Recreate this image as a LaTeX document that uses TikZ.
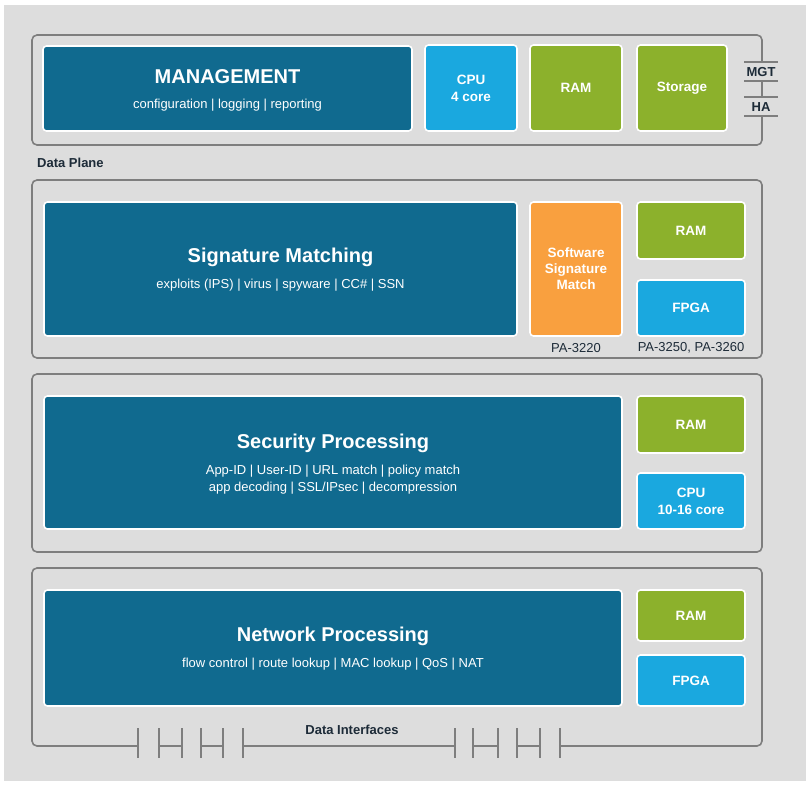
\documentclass[tikz,border=0pt]{standalone}
\usepackage{fontspec}
\setmainfont{Liberation Sans}
\definecolor{bgc}{HTML}{DDDDDD}
\definecolor{bordc}{HTML}{7E7E7E}
\definecolor{dblue}{HTML}{106A8F}
\definecolor{lblue}{HTML}{1AA8DF}
\definecolor{grn}{HTML}{8CB12C}
\definecolor{orng}{HTML}{F9A03F}
\definecolor{dtext}{HTML}{1D2B38}
\begin{document}
\begin{tikzpicture}[x=1pt,y=-1pt,
  outer/.style={draw=bordc, line width=1.6pt, rounded corners=5pt, inner sep=0pt},
  blk/.style={draw=white, line width=1.6pt, rounded corners=3.5pt, inner sep=0pt,
    text=white, font=\bfseries\fontsize{13.5}{17}\selectfont, align=center},
  ttl/.style={text=white, font=\bfseries\fontsize{20}{24}\selectfont, inner sep=0pt},
  sub/.style={text=white, font=\fontsize{13}{17}\selectfont, align=center, inner sep=0pt},
  lbl/.style={text=dtext, font=\fontsize{13}{16}\selectfont, inner sep=0pt},
  blbl/.style={text=dtext, font=\bfseries\fontsize{13}{16}\selectfont, inner sep=0pt},
  tick/.style={draw=bordc, line width=1.3pt}]
\useasboundingbox (0,0) rectangle (811,789);
\fill[white] (0,0) rectangle (811,789);
\fill[bgc] (4,5) rectangle (806,781);

% outer frames
\node[outer, minimum width=730pt, minimum height=110pt] (mgmtbox) at (397,90) {};
\node[outer, minimum width=730pt, minimum height=178pt] (sigbox) at (397,269) {};
\node[outer, minimum width=730pt, minimum height=178pt] (secbox) at (397,463) {};
\node[outer, minimum width=730pt, minimum height=178pt] (netbox) at (397,657) {};

% management row
\node[blk, fill=dblue, minimum width=369pt, minimum height=85pt] (mgmt) at (227.5,88.5) {};
\node[ttl] (mgmtT) at (227.5,77) {MANAGEMENT};
\node[sub] (mgmtS) at (227.5,105) {configuration | logging | reporting};
\node[blk, fill=lblue, minimum width=92pt, minimum height=86pt] (cpu) at (471,88) {CPU\\4 core};
\node[blk, fill=grn, minimum width=92pt, minimum height=86pt] (ram) at (576,88) {RAM};
\node[blk, fill=grn, minimum width=90pt, minimum height=86pt] (stor) at (682,88) {Storage};

% MGT / HA ports
\fill[bgc] (754,62.8) rectangle (770,80.2);
\fill[bgc] (754,97.8) rectangle (770,115.2);
\draw[tick] (744,62) coordinate (m1) -- (778,62) coordinate (m2);
\draw[tick] (744,81) coordinate (m3) -- (778,81) coordinate (m4);
\draw[tick] (744,97) coordinate (h1) -- (778,97) coordinate (h2);
\draw[tick] (744,116) coordinate (h3) -- (778,116) coordinate (h4);
\node[blbl] (mgt) at (761,72) {MGT};
\node[blbl] (ha) at (761,107) {HA};

\node[blbl, anchor=west] (dp) at (37,163) {Data Plane};

% signature matching row
\node[blk, fill=dblue, minimum width=473pt, minimum height=134pt] (sig) at (280.5,269) {};
\node[ttl] (sigT) at (280.5,257) {Signature Matching};
\node[sub] (sigS) at (280.5,285) {exploits (IPS) | virus | spyware | CC\# | SSN};
\node[blk, fill=orng, minimum width=92pt, minimum height=134pt, font=\bfseries\fontsize{13.5}{16}\selectfont] (soft) at (576,269) {Software\\Signature\\Match};
\node[blk, fill=grn, minimum width=108pt, minimum height=57pt] (ram2) at (691,230.5) {RAM};
\node[blk, fill=lblue, minimum width=108pt, minimum height=56pt] (fpga) at (691,308) {FPGA};
\node[lbl] (pa1) at (576,348) {PA-3220};
\node[lbl] (pa2) at (691,348) {PA-3250, PA-3260};

% security processing row
\node[blk, fill=dblue, minimum width=578pt, minimum height=133pt] (sec) at (333,462.5) {};
\node[ttl] (secT) at (333,443) {Security Processing};
\node[sub] (secS) at (333,479.5) {App-ID | User-ID | URL match | policy match\\app decoding | SSL/IPsec | decompression};
\node[blk, fill=grn, minimum width=108pt, minimum height=57pt] (ram3) at (691,424.5) {RAM};
\node[blk, fill=lblue, minimum width=108pt, minimum height=56pt] (cpu2) at (691,501) {CPU\\10-16 core};

% network processing row
\node[blk, fill=dblue, minimum width=578pt, minimum height=116pt] (net) at (333,648) {};
\node[ttl] (netT) at (333,636) {Network Processing};
\node[sub] (netS) at (333,664) {flow control | route lookup | MAC lookup | QoS | NAT};
\node[blk, fill=grn, minimum width=108pt, minimum height=51pt] (ram4) at (691,615.5) {RAM};
\node[blk, fill=lblue, minimum width=108pt, minimum height=51pt] (fpga2) at (691,680.5) {FPGA};

% data interfaces
\node[blbl] (di) at (352,730) {Data Interfaces};
\foreach \a/\b in {138/159,182/201,223/243,455/473,498/517,540/560}{
  \fill[bgc] (\a+0.7,740) rectangle (\b-0.7,752);
  \draw[tick] (\a,728) -- (\a,758);
  \draw[tick] (\b,728) -- (\b,758);
}
\end{tikzpicture}
\end{document}
